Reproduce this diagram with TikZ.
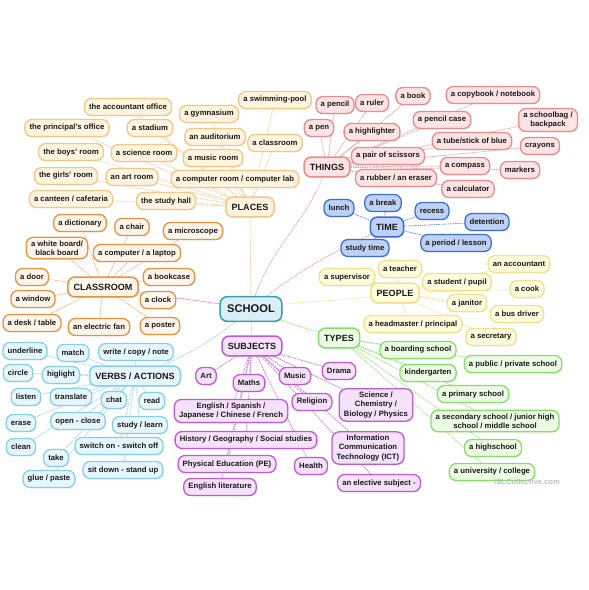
\documentclass[tikz,border=0pt]{standalone}
\usepackage{fontspec}
\setmainfont{Liberation Sans}
\usetikzlibrary{backgrounds, shadows}

\definecolor{plDraw}{HTML}{F2C787}\definecolor{plFill}{HTML}{FFF4DF}\definecolor{plLine}{HTML}{F0CF98}
\definecolor{thDraw}{HTML}{E78C8C}\definecolor{thFill}{HTML}{FDE4E4}\definecolor{thLine}{HTML}{EBA0A0}
\definecolor{tiDraw}{HTML}{3E6FD0}\definecolor{tiFill}{HTML}{BFD1F5}\definecolor{tiLine}{HTML}{6E90D8}
\definecolor{peDraw}{HTML}{F2E08C}\definecolor{peFill}{HTML}{FFFBDD}\definecolor{peLine}{HTML}{F2E39C}
\definecolor{tyDraw}{HTML}{86DE6A}\definecolor{tyFill}{HTML}{ECFBE4}\definecolor{tyLine}{HTML}{98E381}
\definecolor{suDraw}{HTML}{BE5AD6}\definecolor{suFill}{HTML}{F6E1FA}\definecolor{suLine}{HTML}{C978DD}
\definecolor{veDraw}{HTML}{86CFEA}\definecolor{veFill}{HTML}{E5F6FC}\definecolor{veLine}{HTML}{98D6EE}
\definecolor{clDraw}{HTML}{E8913F}\definecolor{clFill}{HTML}{FFF5EB}\definecolor{clLine}{HTML}{F0B27A}
\definecolor{scDraw}{HTML}{3C9CB0}\definecolor{scFill}{HTML}{D9EEF5}

\begin{document}
\begin{tikzpicture}[x=0.03cm, y=-0.03cm,
leaf/.style={draw, rounded corners=6pt, line width=1.1pt, inner xsep=4pt, inner ysep=2.8pt,
  minimum height=14.5pt, align=center, text=black!90, font=\fontsize{6.6}{7.9}\selectfont\bfseries,
  drop shadow={opacity=0.12, shadow xshift=0.5pt, shadow yshift=-0.7pt}},
hub/.style={font=\fontsize{7.7}{9}\selectfont\bfseries, minimum height=17pt, inner xsep=5pt, line width=1.3pt},
link/.style={dash pattern=on 1.2pt off 0.8pt, line width=0.7pt}]
\tikzstyle{place}=[leaf, draw=plDraw, fill=plFill]
\tikzstyle{thing}=[leaf, draw=thDraw, fill=thFill]
\tikzstyle{time}=[leaf, draw=tiDraw, fill=tiFill]
\tikzstyle{person}=[leaf, draw=peDraw, fill=peFill]
\tikzstyle{type}=[leaf, draw=tyDraw, fill=tyFill]
\tikzstyle{subject}=[leaf, draw=suDraw, fill=suFill]
\tikzstyle{verb}=[leaf, draw=veDraw, fill=veFill]
\tikzstyle{room}=[leaf, draw=clDraw, fill=clFill]

\useasboundingbox (0,0) rectangle (588,590);

%School
\node[leaf, hub, draw=scDraw, fill=scFill, font=\fontsize{9.5}{11}\selectfont\bfseries,
  minimum height=21pt, inner xsep=6pt] (school) at (251,309) {SCHOOL};

%Places
\node[place, hub] (places) at (250,207) {PLACES};
\node[place] (acc) at (128,107) {the accountant office};
\node[place] (gym) at (209,114) {a gymnasium};
\node[place] (swim) at (275,100) {a swimming-pool};
\node[place] (princ) at (67,128) {the principal's office};
\node[place] (stad) at (150,128) {a stadium};
\node[place] (audi) at (215,137) {an auditorium};
\node[place] (clsrm) at (275,143) {a classroom};
\node[place] (boys) at (71,152) {the boys' room};
\node[place] (sci) at (144,153) {a science room};
\node[place] (musicr) at (213,158) {a music room};
\node[place] (girls) at (66,176) {the girls' room};
\node[place] (artr) at (132,177) {an art room};
\node[place] (comp) at (235,179) {a computer room / computer lab};
\node[place] (cant) at (71,199) {a canteen / cafetaria};
\node[place] (hall) at (166,201) {the study hall};

%Things
\node[thing, hub] (things) at (327,167) {THINGS};
\node[thing] (pencil) at (335,105) {a pencil};
\node[thing] (ruler) at (372,103) {a ruler};
\node[thing] (book) at (413,96) {a book};
\node[thing] (copyb) at (493,95) {a copybook / notebook};
\node[thing] (pen) at (319,128) {a pen};
\node[thing] (highl) at (372,132) {a highlighter};
\node[thing] (pcase) at (442,120) {a pencil case};
\node[thing] (bag) at (548,120) {a schoolbag /\\backpack};
\node[thing] (tube) at (472,141) {a tube/stick of blue};
\node[thing] (crayons) at (540,146) {crayons};
\node[thing] (scis) at (388,156) {a pair of scissors};
\node[thing] (compass) at (465,166) {a compass};
\node[thing] (markers) at (520,170) {markers};
\node[thing] (rubber) at (396,178) {a rubber / an eraser};
\node[thing] (calc) at (468,189) {a calculator};

%Time
\node[time, hub] (time) at (387,227) {TIME};
\node[time] (lunch) at (339,208) {lunch};
\node[time] (brk) at (383,203) {a break};
\node[time] (recess) at (432,211) {recess};
\node[time] (detent) at (487,222) {detention};
\node[time] (stime) at (365,248) {study time};
\node[time] (period) at (456,243) {a period / lesson};

%People
\node[person, hub] (people) at (395,293) {PEOPLE};
\node[person] (accnt) at (519,264) {an accountant};
\node[person] (teacher) at (400,269) {a teacher};
\node[person] (superv) at (347,277) {a supervisor};
\node[person] (student) at (457,282) {a student / pupil};
\node[person] (cook) at (527,289) {a cook};
\node[person] (janitor) at (467,303) {a janitor};
\node[person] (bus) at (517,314) {a bus driver};
\node[person] (head) at (413,324) {a headmaster / principal};
\node[person] (secr) at (491,337) {a secretary};

%Types
\node[type, hub] (types) at (339,338) {TYPES};
\node[type] (boarding) at (418,350) {a boarding school};
\node[type] (public) at (513,364) {a public / private school};
\node[type] (kinder) at (428,373) {kindergarten};
\node[type] (primary) at (473,394) {a primary school};
\node[type] (second) at (495,421) {a secondary school / junior high\\school / middle school};
\node[type] (high) at (493,448) {a highschool};
\node[type] (univ) at (492,472) {a university / college};

%Subjects
\node[subject, hub] (subjects) at (252,346) {SUBJECTS};
\node[subject] (arts) at (206,376) {Art};
\node[subject] (maths) at (249,383) {Maths};
\node[subject] (musics) at (295,376) {Music};
\node[subject] (drama) at (339,371) {Drama};
\node[subject] (relig) at (312,402) {Religion};
\node[subject] (english) at (231,411) {English / Spanish /\\Japanese / Chinese / French};
\node[subject] (science) at (376,405) {Science /\\Chemistry /\\Biology / Physics};
\node[subject] (history) at (246,440) {History / Geography / Social studies};
\node[subject] (ict) at (368,448) {Information\\Communication\\Technology (ICT)};
\node[subject] (pe) at (227,464) {Physical Education (PE)};
\node[subject] (health) at (311,466) {Health};
\node[subject] (lit) at (220,487) {English literature};
\node[subject] (elective) at (379,483) {an elective subject -};

%Verbs
\node[verb, hub] (verbs) at (135,376) {VERBS / ACTIONS};
\node[verb] (underl) at (25,351) {underline};
\node[verb] (match) at (73,353) {match};
\node[verb] (write) at (136,352) {write / copy / note};
\node[verb] (circle) at (18,373) {circle};
\node[verb] (higl) at (61,375) {higlight};
\node[verb] (listen) at (26,397) {listen};
\node[verb] (transl) at (71,397) {translate};
\node[verb] (chat) at (114,400) {chat};
\node[verb] (read) at (152,401) {read};
\node[verb] (erase) at (21,423) {erase};
\node[verb] (open) at (78,421) {open - close};
\node[verb] (study) at (140,425) {study / learn};
\node[verb] (clean) at (21,447) {clean};
\node[verb] (switch) at (119,446) {switch on - switch off};
\node[verb] (take) at (56,458) {take};
\node[verb] (sit) at (123,470) {sit down - stand up};
\node[verb] (glue) at (49,479) {glue / paste};

%Classroom
\node[room, hub] (classroom) at (103,287) {CLASSROOM};
\node[room] (dict) at (80,223) {a dictionary};
\node[room] (chair) at (132,227) {a chair};
\node[room] (micro) at (193,231) {a microscope};
\node[room] (wboard) at (57,248) {a white board/\\black board};
\node[room] (laptop) at (137,253) {a computer / a laptop};
\node[room] (door) at (32,277) {a door};
\node[room] (bookc) at (169,277) {a bookcase};
\node[room] (window) at (33,299) {a window};
\node[room] (clock) at (158,300) {a clock};
\node[room] (desk) at (32,323) {a desk / table};
\node[room] (fan) at (99,327) {an electric fan};
\node[room] (poster) at (160,326) {a poster};

\node[text=black!25, font=\fontsize{6.5}{7}\selectfont\bfseries] (mark) at (527,482) {iSLCollective.com};

%Links
\begin{scope}[on background layer]
\draw[link, plLine] (school.center) -- (places.center);
\draw[link, plLine] (school.center) -- (subjects.center);
\draw[link, thLine] (school.center) to[out=75, in=250] (things.center);
\draw[link, thLine] (school.center) to[out=40, in=205] (time.center);
\draw[link, peLine] (school.center) to[out=10, in=190] (people.center);
\draw[link, tyLine] (school.center) to[out=-20, in=165] (types.center);
\draw[link, veLine] (school.center) to[out=220, in=20] (verbs.center);
\draw[link, suLine] (school.center) to[out=170, in=-10] (classroom.center);
\foreach \n in {acc,gym,swim,princ,stad,audi,clsrm,boys,sci,musicr,girls,artr,comp,cant,hall}
  \draw[link, plLine] (places.center) -- (\n.center);
\foreach \n in {pencil,ruler,book,copyb,pen,highl,pcase,bag,tube,crayons,scis,compass,markers,rubber,calc}
  \draw[link, thLine] (things.center) -- (\n.center);
\foreach \n in {lunch,brk,recess,detent,stime,period}
  \draw[link, tiLine] (time.center) -- (\n.center);
\foreach \n in {accnt,teacher,superv,student,cook,janitor,bus,head,secr}
  \draw[link, peLine] (people.center) -- (\n.center);
\foreach \n in {boarding,public,kinder,primary,second,high,univ}
  \draw[link, tyLine] (types.center) -- (\n.center);
\foreach \n in {arts,maths,musics,drama,relig,english,science,history,ict,pe,health,lit,elective}
  \draw[link, suLine] (subjects.center) -- (\n.center);
\foreach \n in {underl,match,write,circle,higl,listen,transl,chat,read,erase,open,study,clean,switch,take,sit,glue}
  \draw[link, veLine] (verbs.center) -- (\n.center);
\foreach \n in {dict,chair,micro,wboard,laptop,door,bookc,window,clock,desk,fan,poster}
  \draw[link, clLine] (classroom.center) -- (\n.center);
\end{scope}
\end{tikzpicture}
\end{document}
